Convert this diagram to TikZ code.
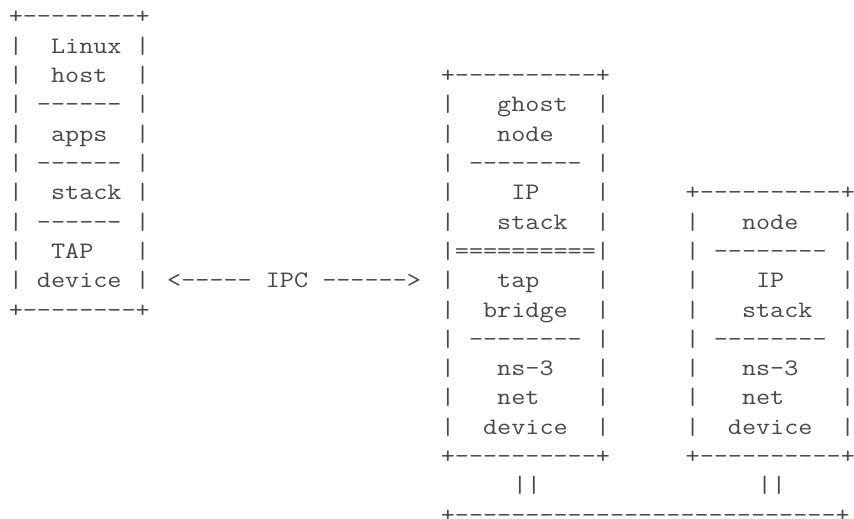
\documentclass[tikz,border=0pt]{standalone}
\usepackage{graphicx}
\colorlet{ink}{black!72}
\tikzset{asc/.style={anchor=base west,inner sep=0pt,outer sep=0pt,text=ink,font=\fontsize{11.8pt}{14pt}\ttfamily}}
\newcommand{\wide}[1]{\scalebox{1.16}[1]{#1}}

\begin{document}
\begin{tikzpicture}[x=7.2pt,y=-14.65pt]
\useasboundingbox (-0.611,-0.819) rectangle (58.69,16.86);

\node[asc] (h0) at (0,0) {\wide{+--------+}};
\node[asc] (h1) at (0,1) {\wide{|~~Linux~|}};
\node[asc] (h2) at (0,2) {\wide{|~~host~~|}};
\node[asc] (h3) at (0,3) {\wide{|~------~|}};
\node[asc] (h4) at (0,4) {\wide{|~~apps~~|}};
\node[asc] (h5) at (0,5) {\wide{|~------~|}};
\node[asc] (h6) at (0,6) {\wide{|~~stack~|}};
\node[asc] (h7) at (0,7) {\wide{|~------~|}};
\node[asc] (h8) at (0,8) {\wide{|~~TAP~~~|}};
\node[asc] (h9) at (0,9) {\wide{|~device~|}};
\node[asc] (h10) at (0,10) {\wide{+--------+}};

\node[asc] (ipc) at (11,9) {\wide{<-----~IPC~------>}};

\node[asc] (g2) at (30,2) {\wide{+----------+}};
\node[asc] (g3) at (30,3) {\wide{|~~~ghost~~|}};
\node[asc] (g4) at (30,4) {\wide{|~~~node~~~|}};
\node[asc] (g5) at (30,5) {\wide{|~--------~|}};
\node[asc] (g6) at (30,6) {\wide{|~~~~IP~~~~|}};
\node[asc] (g7) at (30,7) {\wide{|~~~stack~~|}};
\node[asc] (g8) at (30,8) {\wide{|==========|}};
\node[asc] (g9) at (30,9) {\wide{|~~~tap~~~~|}};
\node[asc] (g10) at (30,10) {\wide{|~~bridge~~|}};
\node[asc] (g11) at (30,11) {\wide{|~--------~|}};
\node[asc] (g12) at (30,12) {\wide{|~~~ns-3~~~|}};
\node[asc] (g13) at (30,13) {\wide{|~~~net~~~~|}};
\node[asc] (g14) at (30,14) {\wide{|~~device~~|}};
\node[asc] (g15) at (30,15) {\wide{+----------+}};
\node[asc] (g16) at (35,16) {\wide{||}};

\node[asc] (n6) at (47,6) {\wide{+----------+}};
\node[asc] (n7) at (47,7) {\wide{|~~~node~~~|}};
\node[asc] (n8) at (47,8) {\wide{|~--------~|}};
\node[asc] (n9) at (47,9) {\wide{|~~~~IP~~~~|}};
\node[asc] (n10) at (47,10) {\wide{|~~~stack~~|}};
\node[asc] (n11) at (47,11) {\wide{|~--------~|}};
\node[asc] (n12) at (47,12) {\wide{|~~~ns-3~~~|}};
\node[asc] (n13) at (47,13) {\wide{|~~~net~~~~|}};
\node[asc] (n14) at (47,14) {\wide{|~~device~~|}};
\node[asc] (n15) at (47,15) {\wide{+----------+}};
\node[asc] (n16) at (52,16) {\wide{||}};

\node[asc] (bus) at (30,17) {\wide{+---------------------------+}};

\end{tikzpicture}
\end{document}
